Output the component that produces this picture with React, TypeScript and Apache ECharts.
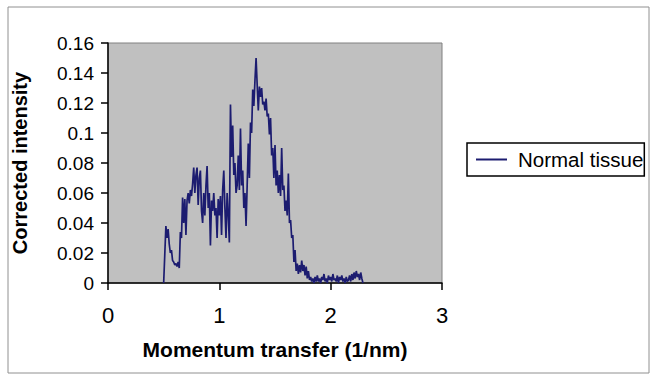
import React, { useEffect, useRef } from "react";
import * as echarts from "echarts";

const momentum: number[] = [
  0.50, 0.51, 0.52, 0.53, 0.54, 0.55, 0.56, 0.57, 0.58, 0.59,
  0.60, 0.61, 0.62, 0.63, 0.64, 0.65, 0.66, 0.67, 0.68, 0.69,
  0.70, 0.71, 0.72, 0.73, 0.74, 0.75, 0.76, 0.77, 0.78, 0.79,
  0.80, 0.81, 0.82, 0.83, 0.84, 0.85, 0.86, 0.87, 0.88, 0.89,
  0.90, 0.91, 0.92, 0.93, 0.94, 0.95, 0.96, 0.97, 0.98, 0.99,
  1.00, 1.01, 1.02, 1.03, 1.04, 1.05, 1.06, 1.07, 1.08, 1.09,
  1.10, 1.11, 1.12, 1.13, 1.14, 1.15, 1.16, 1.17, 1.18, 1.19,
  1.20, 1.21, 1.22, 1.23, 1.24, 1.25, 1.26, 1.27, 1.28, 1.29,
  1.30, 1.31, 1.32, 1.33, 1.34, 1.35, 1.36, 1.37, 1.38, 1.39,
  1.40, 1.41, 1.42, 1.43, 1.44, 1.45, 1.46, 1.47, 1.48, 1.49,
  1.50, 1.51, 1.52, 1.53, 1.54, 1.55, 1.56, 1.57, 1.58, 1.59,
  1.60, 1.61, 1.62, 1.63, 1.64, 1.65, 1.66, 1.67, 1.68, 1.69,
  1.70, 1.71, 1.72, 1.73, 1.74, 1.75, 1.76, 1.77, 1.78, 1.79,
  1.80, 1.81, 1.82, 1.83, 1.84, 1.85, 1.86, 1.87, 1.88, 1.89,
  1.90, 1.91, 1.92, 1.93, 1.94, 1.95, 1.96, 1.97, 1.98, 1.99,
  2.00, 2.01, 2.02, 2.03, 2.04, 2.05, 2.06, 2.07, 2.08, 2.09,
  2.10, 2.11, 2.12, 2.13, 2.14, 2.15, 2.16, 2.17, 2.18, 2.19,
  2.20, 2.21, 2.22, 2.23, 2.24, 2.25, 2.26, 2.27, 2.28, 2.29,
];

const normalTissue: number[] = [
  0.000, 0.019, 0.038, 0.030, 0.036, 0.026, 0.020, 0.022, 0.015, 0.014,
  0.012, 0.013, 0.011, 0.014, 0.010, 0.034, 0.030, 0.057, 0.040, 0.056,
  0.032, 0.055, 0.060, 0.053, 0.062, 0.058, 0.066, 0.077, 0.060, 0.072,
  0.077, 0.052, 0.070, 0.075, 0.048, 0.040, 0.060, 0.045, 0.065, 0.078,
  0.050, 0.060, 0.025, 0.055, 0.048, 0.060, 0.045, 0.050, 0.030, 0.056,
  0.045, 0.058, 0.032, 0.062, 0.075, 0.050, 0.030, 0.060, 0.045, 0.027,
  0.119, 0.084, 0.105, 0.072, 0.080, 0.060, 0.065, 0.085, 0.062, 0.103,
  0.065, 0.075, 0.050, 0.060, 0.038, 0.065, 0.093, 0.070, 0.107, 0.100,
  0.129, 0.118, 0.135, 0.150, 0.132, 0.115, 0.131, 0.124, 0.130, 0.119,
  0.121, 0.115, 0.123, 0.111, 0.113, 0.099, 0.110, 0.085, 0.090, 0.070,
  0.092, 0.065, 0.075, 0.060, 0.072, 0.058, 0.090, 0.062, 0.065, 0.048,
  0.055, 0.045, 0.073, 0.040, 0.042, 0.030, 0.032, 0.014, 0.022, 0.008,
  0.013, 0.006, 0.012, 0.007, 0.015, 0.008, 0.012, 0.005, 0.011, 0.003,
  0.008, 0.002, 0.004, 0.001, 0.003, 0.000, 0.004, 0.001, 0.005, 0.001,
  0.003, 0.000, 0.004, 0.002, 0.006, 0.001, 0.003, 0.000, 0.005, 0.002,
  0.004, 0.001, 0.006, 0.002, 0.003, 0.001, 0.005, 0.000, 0.004, 0.002,
  0.005, 0.001, 0.003, 0.000, 0.004, 0.001, 0.002, 0.005, 0.001, 0.006,
  0.002, 0.007, 0.003, 0.008, 0.004, 0.006, 0.002, 0.007, 0.003, 0.000,
];

const seriesName = "Normal tissue";
const xTicks = ["0", "1", "2", "3"];
const yTicks = ["0", "0.02", "0.04", "0.06", "0.08", "0.1", "0.12", "0.14", "0.16"];

const FONT = "'Liberation Sans', Arial, sans-serif";

export default function App() {
  const ref = useRef<HTMLDivElement>(null);

  useEffect(() => {
    if (!ref.current) return;
    const chart = echarts.init(ref.current, undefined, { renderer: "svg" });
    const data = momentum.map((x, i) => [x, normalTissue[i]]);
    chart.setOption({
      animation: false,
      backgroundColor: "#ffffff",
      textStyle: { fontFamily: FONT },
      grid: {
        left: 108,
        right: 210,
        top: 43,
        bottom: 98,
        show: true,
        backgroundColor: "#c0c0c0",
        borderColor: "#808080",
        borderWidth: 1,
      },
      xAxis: {
        type: "value",
        min: 0,
        max: 3,
        interval: 1,
        name: "Momentum transfer (1/nm)",
        nameLocation: "middle",
        nameGap: 56,
        nameTextStyle: { fontSize: 21, fontWeight: "bold", color: "#000", fontFamily: FONT },
        axisLine: { show: true, lineStyle: { color: "#000", width: 1.5 } },
        axisTick: { show: true, inside: false, length: 7, lineStyle: { color: "#000", width: 1.5 } },
        axisLabel: {
          fontSize: 22,
          color: "#000",
          margin: 21,
          fontFamily: FONT,
          formatter: (v: number) => xTicks[Math.round(v)] ?? String(v),
        },
        splitLine: { show: false },
      },
      yAxis: {
        type: "value",
        min: 0,
        max: 0.16,
        interval: 0.02,
        name: "Corrected intensity",
        nameLocation: "middle",
        nameGap: 78,
        nameRotate: 90,
        nameTextStyle: { fontSize: 20, fontWeight: "bold", color: "#000", fontFamily: FONT },
        axisLine: { show: true, lineStyle: { color: "#000", width: 1.5 } },
        axisTick: { show: true, inside: false, length: 7, lineStyle: { color: "#000", width: 1.5 } },
        axisLabel: {
          fontSize: 19,
          color: "#000",
          margin: 14,
          fontFamily: FONT,
          formatter: (v: number) => yTicks[Math.round(v / 0.02)] ?? String(v),
        },
        splitLine: { show: false },
      },
      legend: {
        show: true,
        left: 467,
        top: 143,
        orient: "vertical",
        borderColor: "#000",
        borderWidth: 1.5,
        borderRadius: 0,
        padding: [6, 1, 6, 9],
        itemWidth: 31,
        itemHeight: 2,
        itemGap: 0,
        data: [{ name: seriesName, icon: "rect" }],
        textStyle: { fontSize: 20.5, color: "#000", fontFamily: FONT, padding: [0, 0, 0, 6] },
      },
      graphic: [
        {
          type: "rect",
          shape: { x: 8, y: 7, width: 641, height: 366 },
          style: { fill: "none", stroke: "#909090", lineWidth: 1 },
          silent: true,
        },
      ],
      series: [
        {
          name: seriesName,
          type: "line",
          data,
          showSymbol: false,
          symbol: "none",
          lineStyle: { color: "#1c1c70", width: 1.7 },
          itemStyle: { color: "#1c1c70" },
        },
      ],
    });
    return () => chart.dispose();
  }, []);

  return (
    <div
      ref={ref}
      style={{ position: "fixed", left: 0, top: 0, width: 652, height: 381 }}
    />
  );
}
